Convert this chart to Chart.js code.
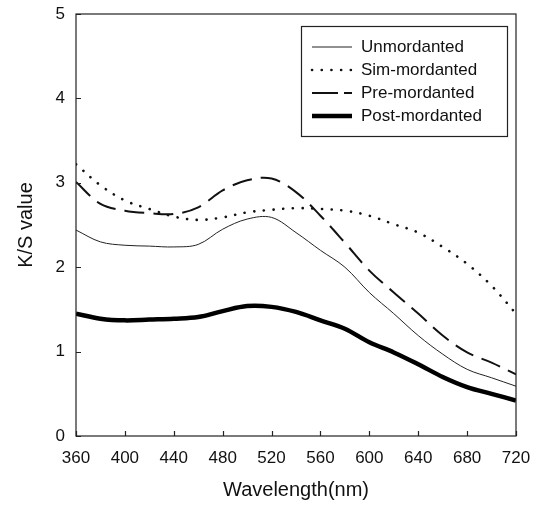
<!DOCTYPE html>
<html><head><meta charset="utf-8">
<script src="https://cdn.jsdelivr.net/npm/chart.js@4.4.1/dist/chart.umd.min.js"></script>
<style>html,body{margin:0;padding:0;background:#fff}#wrap{width:535px;height:510px}</style>
</head><body><div id="wrap"><canvas id="c" width="535" height="510"></canvas></div>
<script>
const wavelengths = [360,380,400,420,440,460,480,500,520,540,560,580,600,620,640,660,680,700,720];
const unmordanted = [2.44,2.30,2.26,2.25,2.24,2.27,2.45,2.57,2.59,2.41,2.20,2.00,1.70,1.45,1.19,0.97,0.79,0.69,0.59];
const simMordanted = [3.22,2.97,2.79,2.69,2.60,2.56,2.59,2.65,2.68,2.70,2.69,2.67,2.61,2.51,2.41,2.24,2.04,1.78,1.45];
const preMordanted = [3.01,2.75,2.67,2.64,2.63,2.71,2.91,3.03,3.05,2.89,2.61,2.29,1.96,1.70,1.45,1.19,0.99,0.87,0.73];
const postMordanted = [1.45,1.39,1.37,1.38,1.39,1.41,1.48,1.54,1.53,1.47,1.37,1.27,1.11,0.99,0.85,0.70,0.58,0.50,0.42];
const seriesNames = ['Unmordanted','Sim-mordanted','Pre-mordanted','Post-mordanted'];
const xTicks = [360,400,440,480,520,560,600,640,680,720];
const yTicks = [0,1,2,3,4,5];

const pts = arr => arr.map((v,i)=>({x:wavelengths[i], y:v}));
const FONT = 'Liberation Sans, Arial, sans-serif';

const styles = [
  {borderWidth:1, borderDash:[], borderColor:'#222'},
  {borderWidth:2.6, borderDash:[0.1,9.6], borderColor:'#111', borderCapStyle:'round'},
  {borderWidth:2, borderDash:[20,9], borderColor:'#111'},
  {borderWidth:4.5, borderDash:[], borderColor:'#000'}
];
const data = [unmordanted, simMordanted, preMordanted, postMordanted];

const framePlugin = {
  id:'frame',
  afterDraw(chart){
    const {ctx, chartArea:a, scales} = chart;
    ctx.save();
    ctx.strokeStyle = '#222'; ctx.lineWidth = 1.2;
    ctx.strokeRect(a.left, a.top, a.right-a.left, a.bottom-a.top);
    ctx.beginPath();
    xTicks.forEach(t=>{ const x = Math.round(scales.x.getPixelForValue(t))+0.5; ctx.moveTo(x,a.bottom); ctx.lineTo(x,a.bottom-5);});
    yTicks.forEach(t=>{ const y = Math.round(scales.y.getPixelForValue(t))+0.5; ctx.moveTo(a.left,y); ctx.lineTo(a.left+5,y);});
    ctx.stroke();
    // legend
    const bx=301, by=26, bw=206, bh=110;
    ctx.lineWidth=1.2; ctx.strokeStyle='#222';
    ctx.strokeRect(bx+0.5,by+0.5,bw,bh);
    const rows=[47,70,93,116];
    ctx.font = '17px ' + FONT; ctx.fillStyle='#111'; ctx.textBaseline='middle'; ctx.textAlign='left';
    rows.forEach((ry,i)=>{
      const s = styles[i];
      ctx.beginPath();
      ctx.lineWidth = s.borderWidth; ctx.strokeStyle = s.borderColor;
      ctx.setLineDash(i===2?[26,6]:s.borderDash); ctx.lineCap = s.borderCapStyle||'butt';
      ctx.moveTo(312,ry); ctx.lineTo(i===1?351:352,ry); ctx.stroke();
      ctx.setLineDash([]); ctx.lineCap='butt';
      ctx.fillText(seriesNames[i], 361, ry);
    });
    ctx.restore();
  }
};

new Chart(document.getElementById('c'), {
  type:'line',
  data:{ datasets: data.map((d,i)=>Object.assign({label:seriesNames[i], data:pts(d), pointRadius:0, fill:false, tension:0.35}, styles[i])) },
  options:{
    responsive:false, animation:false, devicePixelRatio:1,
    layout:{padding:{top:14,right:19,left:0,bottom:0}},
    plugins:{legend:{display:false}, tooltip:{enabled:false}},
    scales:{
      x:{type:'linear', min:360, max:720,
        afterBuildTicks(s){ s.ticks = xTicks.map(v=>({value:v})); },
        afterFit(s){ s.height = 74; s.paddingLeft = 0; s.paddingRight = 0; },
        grid:{display:false, drawTicks:false}, border:{display:false},
        ticks:{color:'#111', font:{family:FONT, size:17}, padding:12, maxRotation:0, autoSkip:false},
        title:{display:true, text:'Wavelength(nm)', color:'#111', font:{family:FONT, size:20}, padding:{top:0,bottom:8}}
      },
      y:{min:0, max:5,
        afterBuildTicks(s){ s.ticks = yTicks.map(v=>({value:v})); },
        afterFit(s){ s.width = 76; s.paddingTop = 0; s.paddingBottom = 0; },
        grid:{display:false, drawTicks:false}, border:{display:false},
        ticks:{color:'#111', font:{family:FONT, size:17}, padding:11},
        title:{display:true, text:'K/S value', color:'#111', font:{family:FONT, size:20}, padding:{top:14,bottom:0}}
      }
    }
  },
  plugins:[framePlugin]
});
</script></body></html>
